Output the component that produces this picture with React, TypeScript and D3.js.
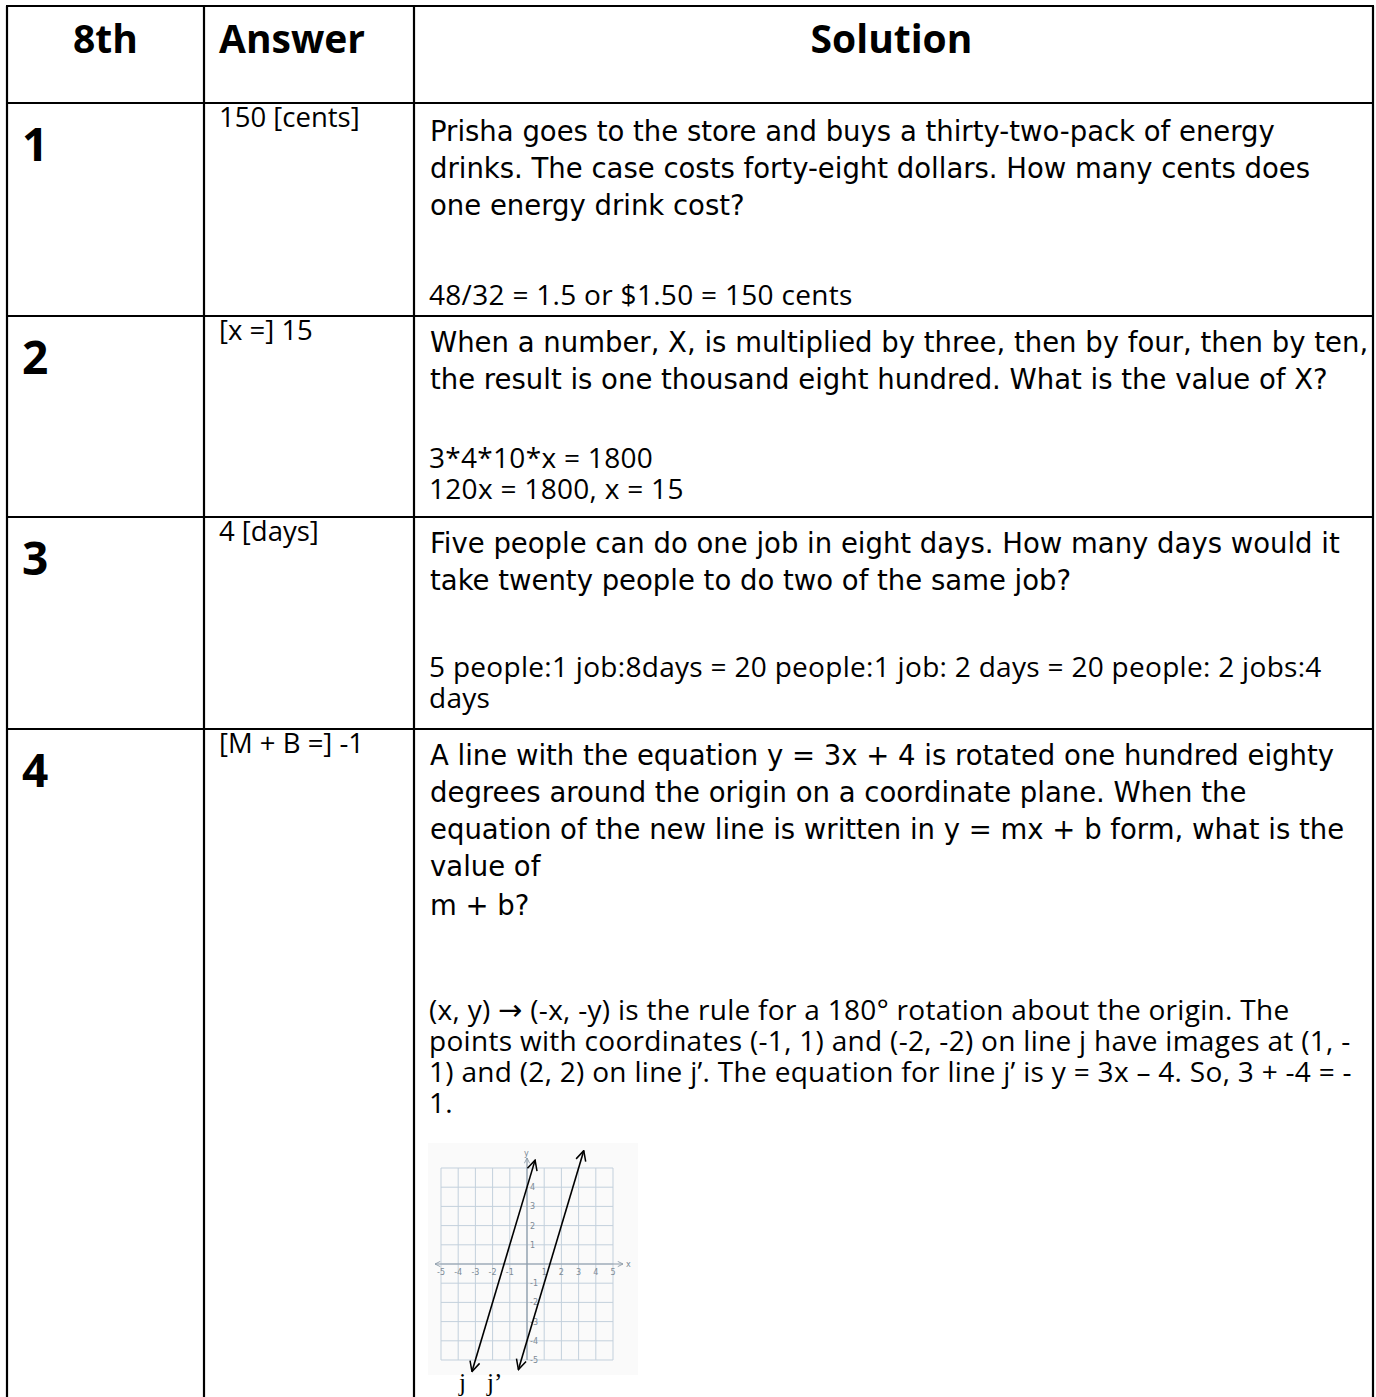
import React from "react";
import * as d3 from "d3";

// table content
const headers = ["8th", "Answer", "Solution"];
const rowNumbers = ["1", "2", "3", "4"];
const answers = ["150 [cents]", "[x =] 15", "4 [days]", "[M + B =] -1"];
const questions = [
  [
    "Prisha goes to the store and buys a thirty-two-pack of energy",
    "drinks. The case costs forty-eight dollars. How many cents does",
    "one energy drink cost?",
  ],
  [
    "When a number, X, is multiplied by three, then by four, then by ten,",
    "the result is one thousand eight hundred. What is the value of X?",
  ],
  [
    "Five people can do one job in eight days. How many days would it",
    "take twenty people to do two of the same job?",
  ],
  [
    "A line with the equation y = 3x + 4 is rotated one hundred eighty",
    "degrees around the origin on a coordinate plane. When the",
    "equation of the new line is written in y = mx + b form, what is the",
    "value of",
    "m + b?",
  ],
];
const workings = [
  ["48/32 = 1.5 or $1.50 = 150 cents"],
  ["3*4*10*x = 1800", "120x = 1800, x = 15"],
  ["5 people:1 job:8days = 20 people:1 job: 2 days = 20 people: 2 jobs:4", "days"],
  [
    "(x, y) \u2192 (-x, -y) is the rule for a 180° rotation about the origin. The",
    "points with coordinates (-1, 1) and (-2, -2) on line j have images at (1, -",
    "1) and (2, 2) on line j\u2019. The equation for line j\u2019 is y = 3x \u2013 4. So, 3 + -4 = -",
    "1.",
  ],
];

// coordinate plane in row 4
const gridValues = [-5, -4, -3, -2, -1, 0, 1, 2, 3, 4, 5];
const xTickLabels = [-5, -4, -3, -2, -1, 1, 2, 3, 4, 5];
const yTickLabels = [4, 3, 2, 1, -1, -2, -3, -4, -5];
const graphLines = [
  { name: "j", slope: 3, intercept: 4, from: -3.2, to: 0.47 },
  { name: "j\u2019", slope: 3, intercept: -4, from: -0.5, to: 3.3 },
];

// layout
const colX = [7, 204, 414, 1373];
const rowY = [6, 103, 316, 517, 729];
const questionStart = [141, 352, 553, 765];
const workStart = [305, 468, 677, 1020];
const labelGap = [6, 16];
const comicFont = "'DejaVu Sans', sans-serif";
const bodyFont = "'Open Sans', sans-serif";

// the arrow glyph is missing from Open Sans, so draw it with DejaVu
const withArrow = (s: string) => {
  const parts = s.split("\u2192");
  if (parts.length === 1) return s;
  return (
    <>
      {parts[0]}
      <tspan fontFamily="'DejaVu Sans', sans-serif" fontSize={29}>
        {"\u2192"}
      </tspan>
      {parts[1]}
    </>
  );
};

export default function App() {
  const x = d3.scaleLinear().domain([-5, 5]).range([441, 613]);
  const y = d3.scaleLinear().domain([-5, 5]).range([1360, 1168]);

  const questionLine = (r: number, i: number) => {
    // "m + b?" sits in its own paragraph, a little further down
    if (r === 3 && i === 4) return questionStart[r] + 3 * 37 + 39;
    return questionStart[r] + i * 37;
  };

  return (
    <svg
      width={1376}
      height={1397}
      style={{ position: "absolute", left: 0, top: 0, display: "block", background: "#fff" }}
    >
      <defs>
        <marker
          id="arr"
          viewBox="0 0 12 12"
          refX={11}
          refY={6}
          markerWidth={12}
          markerHeight={12}
          markerUnits="userSpaceOnUse"
          orient="auto-start-reverse"
        >
          <path d="M1,1 L11,6 L1,11" fill="none" stroke="#000" strokeWidth={1.5} />
        </marker>
        <marker
          id="axarr"
          viewBox="0 0 8 8"
          refX={7}
          refY={4}
          markerWidth={7}
          markerHeight={7}
          markerUnits="userSpaceOnUse"
          orient="auto-start-reverse"
        >
          <path d="M1,1 L7,4 L1,7" fill="none" stroke="#8c9aa8" strokeWidth={1} />
        </marker>
      </defs>

      {/* table rules */}
      <g stroke="#000" strokeWidth={2.2}>
        {rowY.map((ry) => (
          <line key={"h" + ry} x1={colX[0] - 1} x2={colX[3] + 1} y1={ry} y2={ry} />
        ))}
        {colX.map((cx) => (
          <line key={"v" + cx} x1={cx} x2={cx} y1={rowY[0]} y2={1397} />
        ))}
      </g>

      {/* header */}
      <g fontFamily={bodyFont} fontWeight={700} fontSize={39} fill="#000">
        <text x={(colX[0] + colX[1]) / 2} y={53} textAnchor="middle">
          {headers[0]}
        </text>
        <text x={219} y={53}>
          {headers[1]}
        </text>
        <text x={(colX[2] + colX[3]) / 2 - 2} y={53} textAnchor="middle">
          {headers[2]}
        </text>
      </g>

      {rowNumbers.map((n, r) => (
        <g key={n}>
          <text x={22} y={rowY[r + 1] + 58} fontFamily={bodyFont} fontWeight={700} fontSize={46}>
            {n}
          </text>
          <text x={219} y={rowY[r + 1] + 24} fontFamily={bodyFont} fontSize={27.5}>
            {answers[r]}
          </text>
          {questions[r].map((q, i) => (
            <text key={"q" + i} x={430} y={questionLine(r, i)} fontFamily={comicFont} fontSize={27.5}>
              {q}
            </text>
          ))}
          {workings[r].map((w, i) => (
            <text
              key={"w" + i}
              x={429}
              y={workStart[r] + i * 31}
              fontFamily={bodyFont}
              fontSize={28}
              letterSpacing={0.3}
            >
              {withArrow(w)}
            </text>
          ))}
        </g>
      ))}

      {/* coordinate plane picture */}
      <g>
        <rect x={428} y={1143} width={210} height={232} fill="#fafafa" />
        <g stroke="#c3d0dc" strokeWidth={1}>
          {gridValues.map((v) => (
            <line key={"gx" + v} x1={x(v)} x2={x(v)} y1={y(5)} y2={y(-5)} />
          ))}
          {gridValues.map((v) => (
            <line key={"gy" + v} x1={x(-5)} x2={x(5)} y1={y(v)} y2={y(v)} />
          ))}
        </g>
        <line
          x1={x(-5) - 6}
          x2={x(5) + 10}
          y1={y(0)}
          y2={y(0)}
          stroke="#8c9aa8"
          strokeWidth={1.2}
          markerStart="url(#axarr)"
          markerEnd="url(#axarr)"
        />
        <line
          x1={x(0)}
          x2={x(0)}
          y1={y(-5)}
          y2={y(5) - 10}
          stroke="#8c9aa8"
          strokeWidth={1.2}
          markerEnd="url(#axarr)"
        />
        <g fontFamily="'DejaVu Sans', sans-serif" fontSize={8} fill="#7d8a96">
          {xTickLabels.map((v) => (
            <text key={"xl" + v} x={x(v)} y={y(0) + 11} textAnchor="middle">
              {v}
            </text>
          ))}
          {yTickLabels.map((v) => (
            <text key={"yl" + v} x={x(0) + 3} y={y(v) + 3}>
              {v}
            </text>
          ))}
          <text x={x(5) + 13} y={y(0) + 3}>x</text>
          <text x={x(0) - 3} y={y(5) - 12}>y</text>
        </g>
        {graphLines.map((l) => (
          <line
            key={l.name}
            x1={x(l.from)}
            y1={y(l.slope * l.from + l.intercept)}
            x2={x(l.to)}
            y2={y(l.slope * l.to + l.intercept)}
            stroke="#000"
            strokeWidth={1.6}
            markerStart="url(#arr)"
            markerEnd="url(#arr)"
          />
        ))}
        <g fontFamily="'Liberation Serif', serif" fontSize={25} fill="#000">
          {graphLines.map((l, i) => (
            <text key={"lab" + l.name} x={x(l.from) - labelGap[i]} y={1391} textAnchor="end">
              {l.name}
            </text>
          ))}
        </g>
      </g>
    </svg>
  );
}
